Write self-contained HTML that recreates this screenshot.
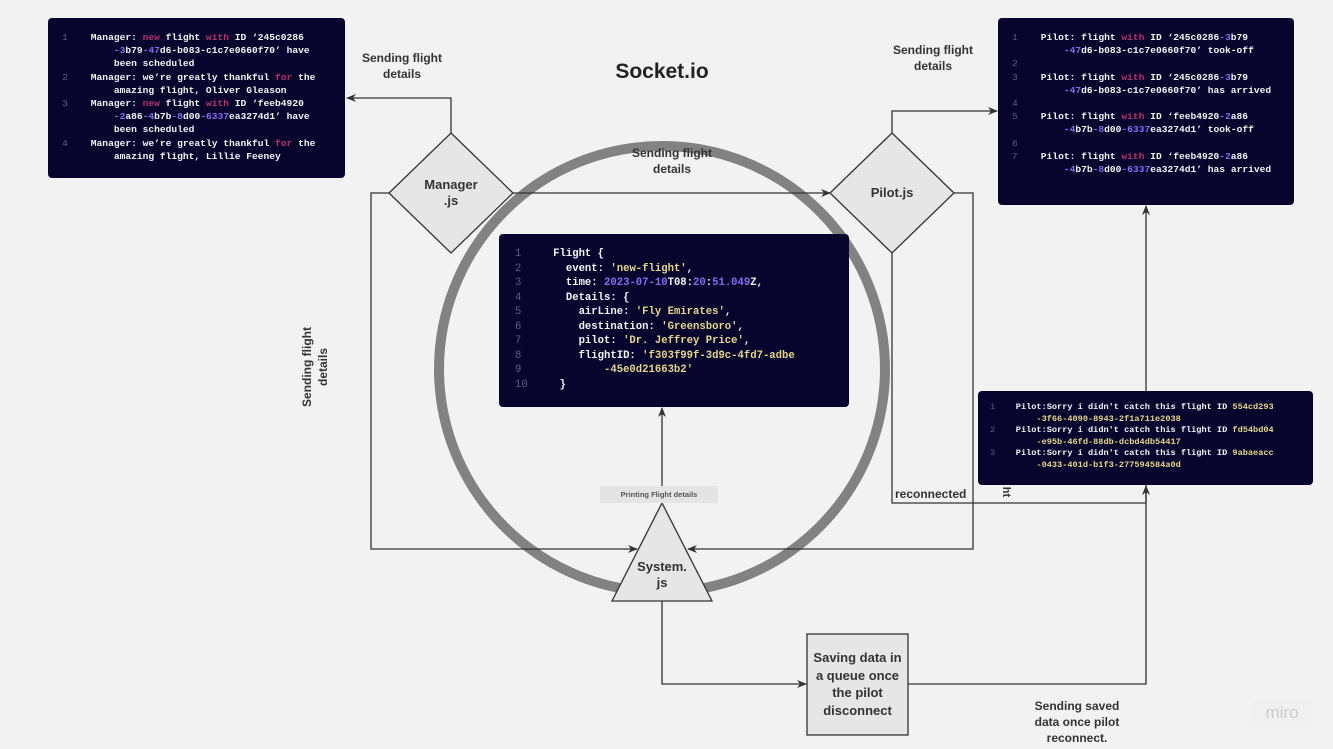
<!DOCTYPE html>
<html><head><meta charset="utf-8"><style>
*{margin:0;padding:0;box-sizing:border-box}
body{width:1333px;height:749px;background:#f2f2f2;position:relative;overflow:hidden;font-family:"Liberation Sans",sans-serif}
.box{position:absolute;background:#07052e;border-radius:4px}
.c{position:absolute;font-family:"Liberation Mono",monospace;font-weight:bold;color:#f4f4f4;white-space:pre;line-height:12px}
.n{color:#5e5d80;font-weight:normal}
.k{color:#b5336a}
.p{color:#8a6cf0}
.y{color:#e6d68a}
.l{position:absolute;font-weight:bold;color:#333;font-size:12px;text-align:center;line-height:16px}
</style></head><body>
<svg width="1333" height="749" style="position:absolute;left:0;top:0">
<defs><marker id="a" markerWidth="10" markerHeight="10" refX="9" refY="5" orient="auto" markerUnits="userSpaceOnUse"><path d="M0,1 L10,5 L0,9 L3,5 z" fill="#333"/></marker></defs>
<circle cx="662" cy="369" r="223" fill="none" stroke="#828282" stroke-width="10"/>
<g fill="none" stroke="#333" stroke-width="1.3">
<path d="M451,133 V98 H347" marker-end="url(#a)"/>
<path d="M513,193 H830" marker-end="url(#a)"/>
<path d="M389,193 H371 V549 H637" marker-end="url(#a)"/>
<path d="M954,193 H973 V549 H688" marker-end="url(#a)"/>
<path d="M892,133 V111 H997" marker-end="url(#a)"/>
<path d="M892,253 V503 H1146 V486" marker-end="url(#a)"/>
<path d="M662,503 V408" marker-end="url(#a)"/>
<path d="M662,601 V684 H806" marker-end="url(#a)"/>
<path d="M908,684 H1146 V206" marker-end="url(#a)"/>
</g>
<polygon points="451,133 513,193 451,253 389,193" fill="#e6e6e6" stroke="#333" stroke-width="1.3"/>
<polygon points="892,133 954,193 892,253 830,193" fill="#e6e6e6" stroke="#333" stroke-width="1.3"/>
<polygon points="662,503 712,601 612,601" fill="#e6e6e6" stroke="#333" stroke-width="1.3"/>
<rect x="807" y="634" width="101" height="101" fill="#e6e6e6" stroke="#333" stroke-width="1.3"/>
<rect x="600" y="486" width="118" height="17" fill="#e4e4e4"/>
</svg>

<div class="l" style="left:596px;top:59px;width:132px;font-size:21px;line-height:26px;color:#222">Socket.io</div>
<div class="l" style="left:352px;top:50px;width:100px">Sending flight<br>details</div>
<div class="l" style="left:883px;top:42px;width:100px">Sending flight<br>details</div>
<div class="l" style="left:622px;top:145px;width:100px">Sending flight<br>details</div>
<div class="l" style="left:401px;top:177px;width:100px;font-size:13px">Manager<br>.js</div>
<div class="l" style="left:842px;top:185px;width:100px;font-size:13px">Pilot.js</div>
<div class="l" style="left:612px;top:559px;width:100px;font-size:13px">System.<br>js</div>
<div class="l" style="left:807px;top:649px;width:101px;font-size:13px;line-height:17.5px">Saving data in<br>a queue once<br>the pilot<br>disconnect</div>
<div class="l" style="left:600px;top:489px;width:118px;font-size:7.5px;line-height:11px;color:#555">Printing Flight details</div>
<div class="l" style="left:895px;top:486px;width:78px;text-align:left">reconnected</div>
<div class="l" style="left:1001px;top:484px;font-size:11px;transform:rotate(90deg)">ht</div>
<div class="l" style="left:265px;top:351px;width:100px;transform:rotate(-90deg)">Sending flight<br>details</div>
<div class="l" style="left:1027px;top:698px;width:100px">Sending saved<br>data once pilot<br>reconnect.</div>
<div class="l" style="left:1252px;top:700px;width:60px;height:26px;font-size:17px;line-height:26px;color:#ccc;font-weight:normal;background:#f0f0f0">miro</div>

<div class="box" style="left:48px;top:18px;width:297px;height:160px"></div>
<div class="c" style="left:62px;top:31px;font-size:9.6px;line-height:13.2px"><span class="n">1</span>    Manager: <span class="k">new</span> flight <span class="k">with</span> ID ‘245c0286
         <span class="p">-3</span>b79<span class="p">-47</span>d6-b083-c1c7e0660f70’ have
         been scheduled
<span class="n">2</span>    Manager: we’re greatly thankful <span class="k">for</span> the
         amazing flight, Oliver Gleason
<span class="n">3</span>    Manager: <span class="k">new</span> flight <span class="k">with</span> ID ‘feeb4920
         <span class="p">-2</span>a86<span class="p">-4</span>b7b<span class="p">-8</span>d00<span class="p">-6337</span>ea3274d1’ have
         been scheduled
<span class="n">4</span>    Manager: we’re greatly thankful <span class="k">for</span> the
         amazing flight, Lillie Feeney</div>

<div class="box" style="left:998px;top:18px;width:296px;height:187px"></div>
<div class="c" style="left:1012px;top:31px;font-size:9.6px;line-height:13.2px"><span class="n">1</span>    Pilot: flight <span class="k">with</span> ID ‘245c0286<span class="p">-3</span>b79
         <span class="p">-47</span>d6-b083-c1c7e0660f70’ took-off
<span class="n">2</span>
<span class="n">3</span>    Pilot: flight <span class="k">with</span> ID ‘245c0286<span class="p">-3</span>b79
         <span class="p">-47</span>d6-b083-c1c7e0660f70’ has arrived
<span class="n">4</span>
<span class="n">5</span>    Pilot: flight <span class="k">with</span> ID ‘feeb4920<span class="p">-2</span>a86
         <span class="p">-4</span>b7b<span class="p">-8</span>d00<span class="p">-6337</span>ea3274d1’ took-off
<span class="n">6</span>
<span class="n">7</span>    Pilot: flight <span class="k">with</span> ID ‘feeb4920<span class="p">-2</span>a86
         <span class="p">-4</span>b7b<span class="p">-8</span>d00<span class="p">-6337</span>ea3274d1’ has arrived</div>

<div class="box" style="left:499px;top:234px;width:350px;height:173px"></div>
<div class="c" style="left:515px;top:247px;font-size:10.6px;line-height:14.5px"><span class="n">1</span>     Flight {
<span class="n">2</span>       event: <span class="y">'new-flight'</span>,
<span class="n">3</span>       time: <span class="p">2023-07-10</span>T08:<span class="p">20</span>:<span class="p">51.049</span>Z,
<span class="n">4</span>       Details: {
<span class="n">5</span>         airLine: <span class="y">'Fly Emirates'</span>,
<span class="n">6</span>         destination: <span class="y">'Greensboro'</span>,
<span class="n">7</span>         pilot: <span class="y">'Dr. Jeffrey Price'</span>,
<span class="n">8</span>         flightID: <span class="y">'f303f99f-3d9c-4fd7-adbe</span>
<span class="n">9</span><span class="y">             -45e0d21663b2'</span>
<span class="n">10</span>     }</div>

<div class="box" style="left:978px;top:391px;width:335px;height:94px"></div>
<div class="c" style="left:990px;top:402px;font-size:8.6px;line-height:11.6px"><span class="n">1</span>    Pilot:Sorry i didn't catch this flight ID <span class="y">554cd293</span>
<span class="y">         -3f66-4090-8943-2f1a711e2038</span>
<span class="n">2</span>    Pilot:Sorry i didn't catch this flight ID <span class="y">fd54bd04</span>
<span class="y">         -e95b-46fd-88db-dcbd4db54417</span>
<span class="n">3</span>    Pilot:Sorry i didn't catch this flight ID <span class="y">9abaeacc</span>
<span class="y">         -0433-401d-b1f3-277594584a0d</span></div>
</body></html>
